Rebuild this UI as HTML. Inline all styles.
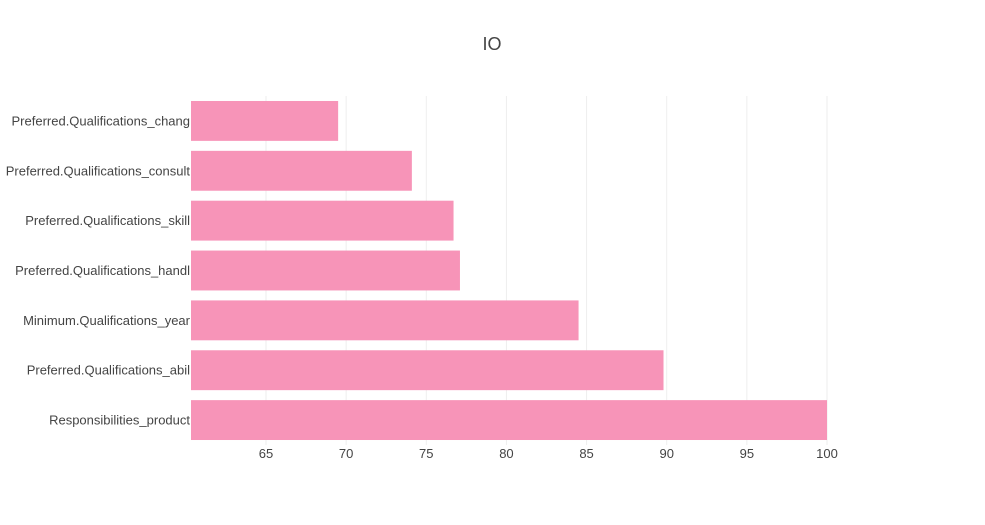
<!DOCTYPE html>
<html><head><meta charset="utf-8"><style>
body{margin:0;background:#fff;}
svg{display:block;font-family:"Liberation Sans",Arial,sans-serif;}
</style></head><body>
<svg id="chart" width="985" height="525">
<text x="492" y="50" text-anchor="middle" font-size="18" fill="#444">IO</text>
<g id="grid"></g>
<g id="bars"></g>
<g id="xticks"></g>
<g id="yticks"></g>
</svg>
<script>
const categories=["Preferred.Qualifications_chang","Preferred.Qualifications_consult","Preferred.Qualifications_skill","Preferred.Qualifications_handl","Minimum.Qualifications_year","Preferred.Qualifications_abil","Responsibilities_product"];
const values=[69.5,74.1,76.7,77.1,84.5,89.8,100];
const xTicks=[65,70,75,80,85,90,95,100];
const xMin=60.32,xMax=100,x0=191,x1=827,yTop=96,yBot=445;
const ns="http://www.w3.org/2000/svg";
function xs(v){return x0+(v-xMin)/(xMax-xMin)*(x1-x0);}
const band=(yBot-yTop)/categories.length;
function yc(i){return yTop+band*(i+0.5);}
function mk(t,a,p){const e=document.createElementNS(ns,t);for(const k in a)e.setAttribute(k,a[k]);p.appendChild(e);return e;}
const grid=document.getElementById('grid'),bars=document.getElementById('bars'),xt=document.getElementById('xticks'),yt=document.getElementById('yticks');
xTicks.forEach(t=>{
 const l=mk('line',{x1:xs(t),x2:xs(t),y1:yTop,y2:yBot,stroke:'#eee','stroke-width':1},grid);
 
 
 const tx=mk('text',{x:xs(t),y:458,'text-anchor':'middle','font-size':13,fill:'#444'},xt);
 tx.textContent=t;
 
 
});
categories.forEach((c,i)=>{
 const h=band*0.8;
 const r=mk('rect',{x:x0,y:yc(i)-h/2,width:xs(values[i])-x0,height:h,fill:'rgb(247,148,184)'},bars);
 
 
 const tx=mk('text',{x:190,y:yc(i)+4.5,'text-anchor':'end','font-size':13,fill:'#444'},yt);
 tx.textContent=c;
 
 
});
</script>
</body></html>
